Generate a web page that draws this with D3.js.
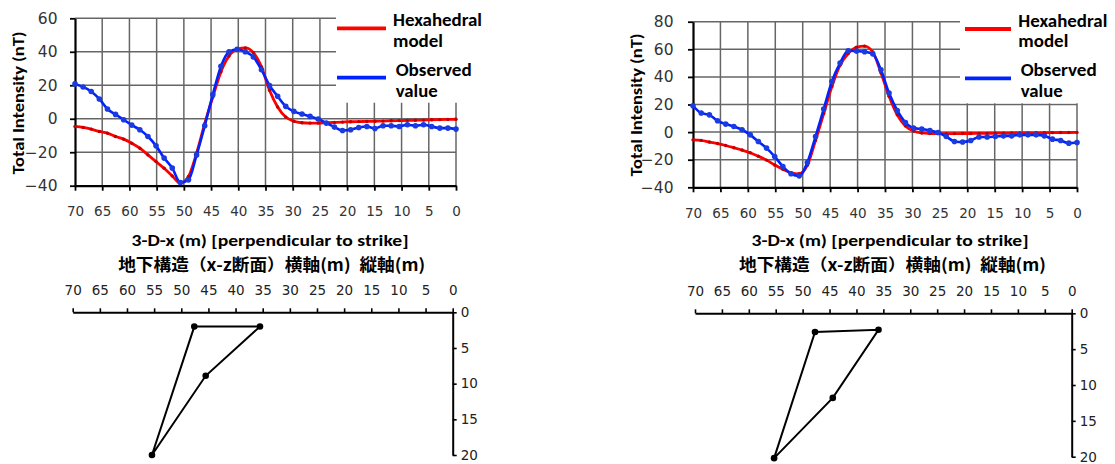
<!DOCTYPE html>
<html><head><meta charset="utf-8">
<script src="https://cdn.jsdelivr.net/npm/d3@7"></script>
<style>body{margin:0;background:#fff}</style>
</head><body><svg id="c" width="1115" height="464"></svg>
<script>
// ---- data ----
const xPositions = [70,68.51,67.02,65.53,64.04,62.55,61.06,59.57,58.09,56.6,55.11,53.62,52.13,50.64,49.15,47.66,46.17,44.68,43.19,41.7,40.21,38.72,37.23,35.74,34.26,32.77,31.28,29.79,28.3,26.81,25.32,23.83,22.34,20.85,19.36,17.87,16.38,14.89,13.4,11.91,10.43,8.94,7.45,5.96,4.47,2.98,1.49,0];
const xTickLabels = [70,65,60,55,50,45,40,35,30,25,20,15,10,5,0];
const leftModel = [-4.6,-5.2,-6.2,-7.6,-8.6,-10.6,-12.2,-14.6,-17.6,-21.6,-25.6,-29.6,-34.2,-38.5,-34.5,-20.5,-3,13,28,37.5,41.5,42.3,39.5,31,17,7,1,-1.5,-2.4,-2.6,-2.6,-2.4,-2.2,-2,-1.8,-1.7,-1.6,-1.5,-1.4,-1.2,-1.1,-1,-0.9,-0.8,-0.6,-0.5,-0.4,-0.3];
const leftObserved = [20.8,19,16.3,11.8,5.8,2.6,-0.6,-3.8,-6.6,-10.6,-16.2,-23.5,-29.5,-38.1,-36.5,-21.6,-4.2,14.4,31.3,40,41.5,40,36.9,29.3,19.9,13.4,7.4,4.4,2.8,1.4,-0.2,-2.6,-5,-7,-6.6,-5.2,-4.6,-5.8,-4.2,-4.2,-4.6,-3.6,-4.2,-3.6,-4.6,-5.6,-5.6,-6.2];
const rightModel = [-5.6,-6,-7.2,-8.3,-9.7,-11.3,-13,-15,-17.5,-20.3,-23.8,-27,-29.5,-30.2,-24,-6,13.5,33,48.5,57,61.5,62.3,58,43,26,12.5,4.5,0.8,-0.6,-1,-1.1,-1.1,-1.1,-1,-1,-0.9,-0.9,-0.8,-0.8,-0.7,-0.6,-0.6,-0.5,-0.5,-0.4,-0.3,-0.3,-0.2];
const rightObserved = [19.1,13.8,12.5,8.2,5.8,4.1,1.7,-2,-6.8,-11.6,-17.7,-24.9,-30.2,-31.7,-22,-3.2,16.7,36.7,50,59,58.7,58.2,56.7,45.1,28.3,15.7,7,2.9,2.2,1.2,-0.3,-3.2,-6.8,-7.2,-6.1,-3.6,-3.6,-3.2,-2.7,-2.7,-2,-2,-2,-2.7,-5.1,-6.1,-8,-7.5];
const leftYTicks = [-40,-20,0,20,40,60];
const rightYTicks = [-40,-20,0,20,40,60,80];
const depthTicks = [0,5,10,15,20];
const leftSectionX = [47.6,35.5,45.5,55.4];
const leftSectionZ = [2.0,2.0,8.9,20];
const rightSectionX = [47.7,35.9,44.4,55.3];
const rightSectionZ = [2.6,2.3,11.8,20.2];
const seriesNames = [["Hexahedral","model"],["Observed","value"]];
const xTitle = "3-D-x (m) [perpendicular to strike]";
const sectionTitle = "地下構造（x-z断面）横軸(m)\u2002縦軸(m)";
const yTitle = "Total Intensity (nT)";

// ---- drawing ----
const svg = d3.select('#c');
const BOLD = "Carlito, Lato, 'Open Sans', sans-serif";
const TICKF = "'DejaVu Sans', Verdana, sans-serif";
const RED = '#ff0000', BLUE = '#0022ff';
const legendWidths = [[89,50],[76,42]];

function panel(o){
  const g = svg.append('g');
  const x = d3.scaleLinear().domain([70,0]).range([o.x0,o.x1]);
  const y = d3.scaleLinear().domain([o.yTicks[0], o.yTicks[o.yTicks.length-1]]).range([o.yb,o.yt]);
  // gridlines
  g.append('g').selectAll('line').data(o.yTicks.slice(1)).join('line')
    .attr('x1',o.x0).attr('x2',o.x1).attr('y1',d=>y(d)).attr('y2',d=>y(d))
    .attr('stroke','#666').attr('stroke-width',1.5);
  g.append('g').selectAll('line').data(xTickLabels.slice(1)).join('line')
    .attr('x1',d=>x(d)).attr('x2',d=>x(d)).attr('y1',o.yt).attr('y2',o.yb)
    .attr('stroke','#666').attr('stroke-width',1.5);
  // legend cover
  g.append('rect').attr('x',o.legX).attr('y',0).attr('width',o.x1+40-o.legX).attr('height',o.legBottom).attr('fill','#fff');
  // axes
  const ya = g.append('g').attr('transform',`translate(${o.x0},0)`)
    .call(d3.axisLeft(y).tickValues(o.yTicks).tickSize(5).tickSizeOuter(0).tickPadding(o.yPad));
  const xa = g.append('g').attr('transform',`translate(0,${o.yb})`)
    .call(d3.axisBottom(x).tickValues(xTickLabels).tickSize(5).tickSizeOuter(0).tickPadding(16));
  [ya,xa].forEach(a=>{
    a.select('.domain').attr('stroke','#000').attr('stroke-width',2.2);
    a.selectAll('.tick line').attr('stroke','#000').attr('stroke-width',1.8);
    a.selectAll('text').attr('fill','#333').attr('font-family',TICKF);
  });
  ya.selectAll('text').attr('font-size',15.5);
  xa.selectAll('text').attr('font-size',13.5);
  // series
  const line = d3.line().x((d,i)=>x(xPositions[i])).y(d=>y(d)).curve(d3.curveMonotoneX);
  g.append('path').datum(o.model).attr('d',line).attr('fill','none').attr('stroke',RED).attr('stroke-width',2.8);
  g.append('g').selectAll('circle').data(o.model).join('circle')
    .attr('cx',(d,i)=>x(xPositions[i])).attr('cy',d=>y(d)).attr('r',1.7).attr('fill','#c00000');
  g.append('path').datum(o.obs).attr('d',line).attr('fill','none').attr('stroke',BLUE).attr('stroke-width',2.6);
  g.append('g').selectAll('circle').data(o.obs).join('circle')
    .attr('cx',(d,i)=>x(xPositions[i])).attr('cy',d=>y(d)).attr('r',2.8).attr('fill','#1a3be0');
  // legend
  const leg = [[RED,o.legLineY[0],o.legTextX[0],o.legTextY[0]],[BLUE,o.legLineY[1],o.legTextX[1],o.legTextY[1]]];
  leg.forEach((L,k)=>{
    g.append('line').attr('x1',o.legLine[0]).attr('x2',o.legLine[1]).attr('y1',L[1]).attr('y2',L[1])
      .attr('stroke',L[0]).attr('stroke-width',3.8);
    seriesNames[k].forEach((s,j)=>{
      g.append('text').attr('x',L[2]).attr('y',L[3]+j*20.5).text(s)
        .attr('font-family',BOLD).attr('font-weight','bold').attr('font-size',17).attr('fill','#000')
        .attr('textLength',legendWidths[k][j]).attr('lengthAdjust','spacingAndGlyphs');
    });
  });
  // titles
  g.append('text').attr('transform',`translate(${o.yTitle[0]},${o.yTitle[1]}) rotate(-90)`)
    .attr('text-anchor','middle').attr('dy','0.35em').text(yTitle)
    .attr('font-family',BOLD).attr('font-weight','bold').attr('font-size',16)
    .attr('textLength',143).attr('lengthAdjust','spacingAndGlyphs');
  g.append('text').attr('x',o.titleX).attr('y',245.5).attr('text-anchor','middle').text(xTitle)
    .attr('font-family',BOLD).attr('font-weight','bold').attr('font-size',16)
    .attr('textLength',277).attr('lengthAdjust','spacingAndGlyphs');
  g.append('text').attr('x',o.titleX2).attr('y',271).attr('text-anchor','middle').text(sectionTitle)
    .attr('font-family',"'Noto Sans CJK JP', sans-serif").attr('font-weight','bold').attr('font-size',16.5)
    .attr('textLength',307).attr('lengthAdjust','spacingAndGlyphs');

  // cross-section
  const sx = d3.scaleLinear().domain([70,0]).range(o.sxRange);
  const sz = d3.scaleLinear().domain([0,20]).range(o.szRange);
  const ta = g.append('g').attr('transform',`translate(0,${o.szRange[0]})`)
    .call(d3.axisTop(sx).tickValues(xTickLabels).tickSize(4).tickSizeOuter(0).tickPadding(13));
  const ra = g.append('g').attr('transform',`translate(${o.sxRange[1]},0)`)
    .call(d3.axisRight(sz).tickValues(depthTicks).tickSize(4).tickSizeOuter(0).tickPadding(4));
  [ta,ra].forEach(a=>{
    a.select('.domain').attr('stroke','#000').attr('stroke-width',2);
    a.selectAll('.tick line').attr('stroke','#000').attr('stroke-width',1.6);
    a.selectAll('text').attr('fill','#222').attr('font-family',TICKF).attr('font-size',13.5);
  });
  const pts = o.secX.map((v,i)=>[sx(v),sz(o.secZ[i])]);
  g.append('path').attr('d',d3.line()(pts)+'Z').attr('fill','none').attr('stroke','#000').attr('stroke-width',2);
  g.append('g').selectAll('circle').data(pts).join('circle')
    .attr('cx',d=>d[0]).attr('cy',d=>d[1]).attr('r',3.3).attr('fill','#000');
}

panel({x0:75,x1:456,yb:185.7,yt:18.3,yTicks:leftYTicks,yPad:12.5,model:leftModel,obs:leftObserved,
  legX:336,legBottom:102.7,legLine:[337,386],legLineY:[28.3,77.7],legTextX:[393,395.7],legTextY:[26,76],
  yTitle:[18,103],titleX:270,titleX2:271.7,sxRange:[72.7,452.7],szRange:[312.3,455],secX:leftSectionX,secZ:leftSectionZ});
panel({x0:693,x1:1077,yb:187.3,yt:21.7,yTicks:rightYTicks,yPad:14.5,model:rightModel,obs:rightObserved,
  legX:960,legBottom:103.3,legLine:[965,1011],legLineY:[29,78.3],legTextX:[1018.3,1020.7],legTextY:[26.5,76],
  yTitle:[636,105],titleX:890,titleX2:892.5,sxRange:[695,1071.7],szRange:[313.3,456.7],secX:rightSectionX,secZ:rightSectionZ});
</script>
</body></html>
